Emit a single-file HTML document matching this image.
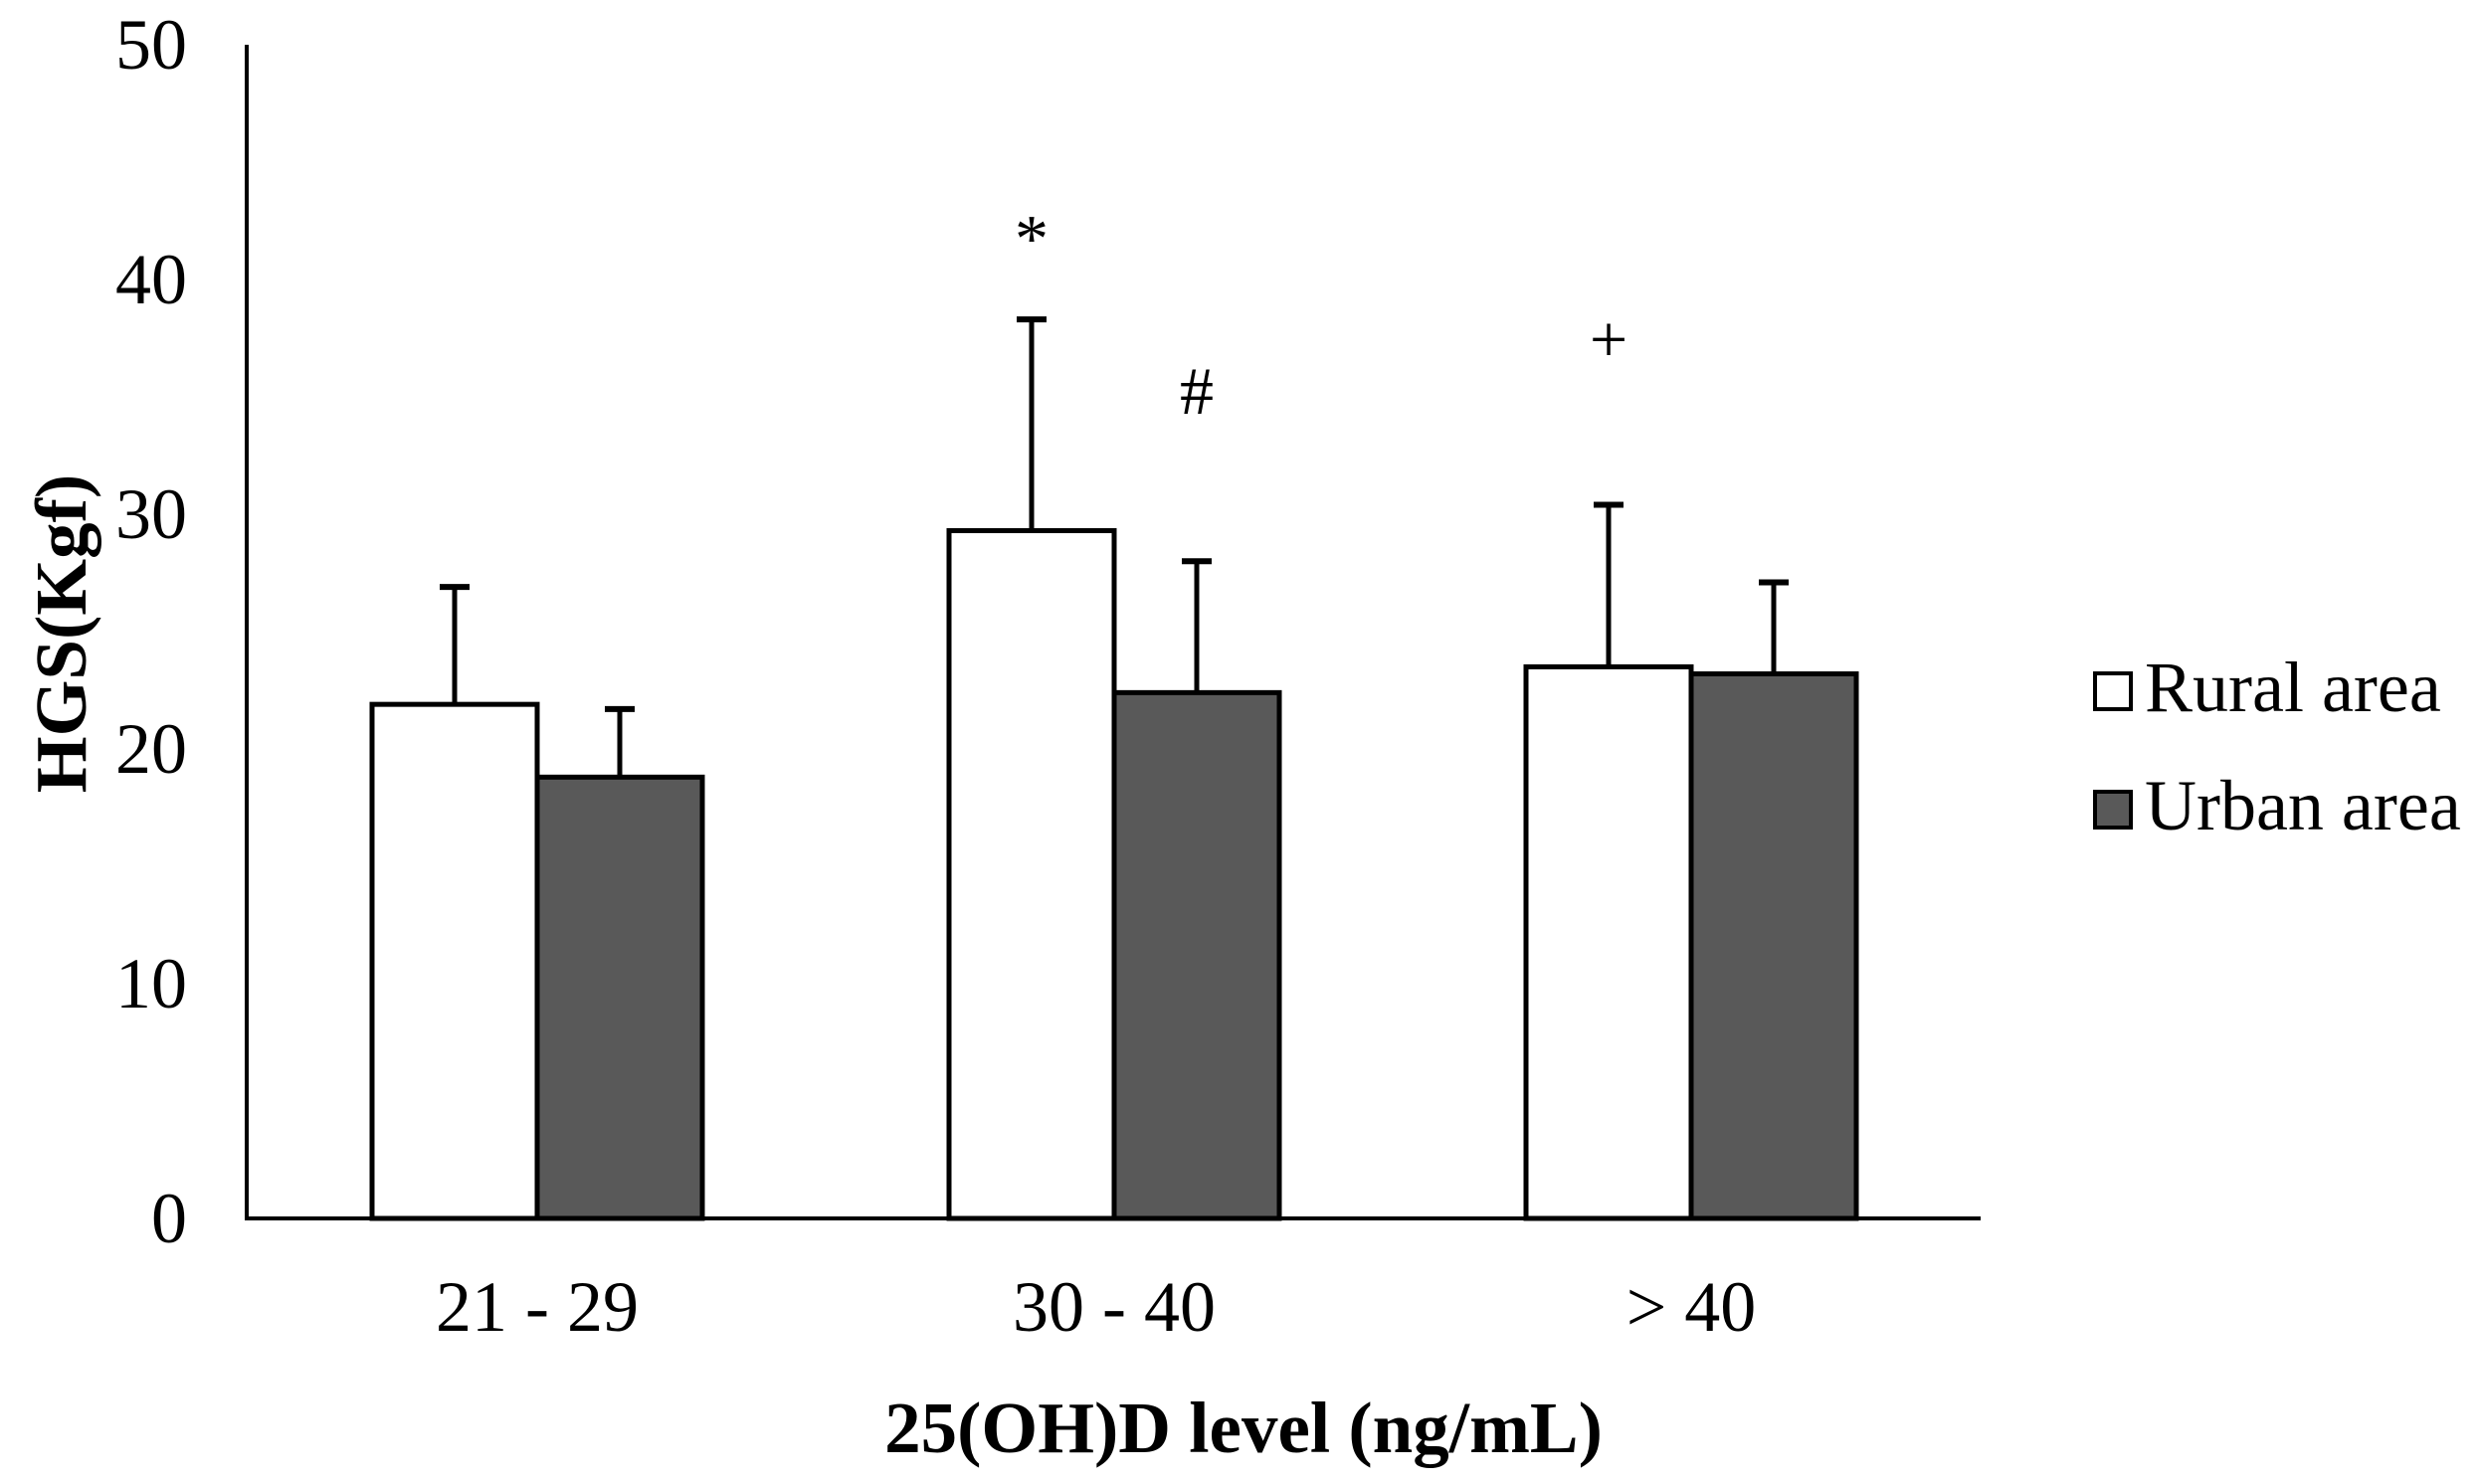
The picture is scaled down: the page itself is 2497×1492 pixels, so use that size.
<!DOCTYPE html>
<html><head><meta charset="utf-8"><style>
html,body{margin:0;padding:0;background:#fff;}
svg{display:block;font-family:"Liberation Serif",serif;}
</style></head><body>
<svg id="chart" width="2497" height="1492" viewBox="0 0 2497 1492" xmlns="http://www.w3.org/2000/svg"></svg>
<script>
const categories = ["21 - 29", "30 - 40", "> 40"];
const ruralValues = [21.9, 29.3, 23.5];
const urbanValues = [18.8, 22.4, 23.2];
const ruralErrTop = [26.9, 38.3, 30.4];
const urbanErrTop = [21.7, 28.0, 27.1];
const yTicks = [0, 10, 20, 30, 40, 50];
const annotations = [
  {text: "*", cat: 1, series: 0, value: 41.8},
  {text: "#", cat: 1, series: 1, value: 35.3},
  {text: "+", cat: 2, series: 0, value: 37.5}
];

const NS = "http://www.w3.org/2000/svg";
const svg = document.getElementById("chart");
const X0 = 248, X1 = 1991, Y0 = 1225, Y50 = 45;
const yScale = v => Y0 - (v / 50) * (Y0 - Y50);
const groupCenter = i => 540 + i * 580;
const barW = 166;
const barX = (i, s) => groupCenter(i) - barW + s * barW;

function el(tag, attrs, parent) {
  const e = document.createElementNS(NS, tag);
  for (const k in attrs) e.setAttribute(k, attrs[k]);
  (parent || svg).appendChild(e);
  return e;
}

[ruralValues, urbanValues].forEach((vals, s) => {
  vals.forEach((v, i) => {
    const errTop = s === 0 ? ruralErrTop[i] : urbanErrTop[i];
    const cx = barX(i, s) + barW / 2;
    const eb = el("line", {x1: cx, x2: cx, y1: yScale(v), y2: yScale(errTop), stroke: "#000", "stroke-width": 5});
    
    
    const cap = el("line", {x1: cx - 15, x2: cx + 15, y1: yScale(errTop), y2: yScale(errTop), stroke: "#000", "stroke-width": 6});
    
    
    const r = el("rect", {x: barX(i, s), y: yScale(v), width: barW, height: Y0 - yScale(v), fill: s === 0 ? "#fff" : "#595959", stroke: "#000", "stroke-width": 5});
    
    
  });
});

const ya = el("line", {x1: X0, x2: X0, y1: Y50, y2: Y0 + 2, stroke: "#000", "stroke-width": 4});


const xa = el("line", {x1: X0 - 2, x2: X1, y1: Y0, y2: Y0, stroke: "#000", "stroke-width": 4});



yTicks.forEach(t => {
  const tx = el("text", {x: 188, y: yScale(t) + 24, "text-anchor": "end", "font-size": 72, fill: "#000"});
  tx.textContent = t;
  
  
});
categories.forEach((c, i) => {
  const tx = el("text", {x: groupCenter(i), y: 1338, "text-anchor": "middle", "font-size": 72, fill: "#000"});
  tx.textContent = c;
  
  
});
annotations.forEach(a => {
  const tx = el("text", {x: barX(a.cat, a.series) + barW / 2, y: yScale(a.value) + 24, "text-anchor": "middle", "font-size": 68, fill: "#000"});
  tx.textContent = a.text;
  
  
});

const xt = el("text", {x: 1250, y: 1460, "text-anchor": "middle", "font-size": 73, "font-weight": "bold", fill: "#000"});
xt.textContent = "25(OH)D level (ng/mL)";


const yt = el("text", {x: 0, y: 0, "text-anchor": "middle", "font-size": 73, "font-weight": "bold", fill: "#000", transform: "translate(86,637) rotate(-90)"});
yt.textContent = "HGS(Kgf)";



[["Rural area", "#fff", 677], ["Urban area", "#595959", 796]].forEach(([lbl, fill, y]) => {
  const b = el("rect", {x: 2106, y: y, width: 36, height: 36, fill: fill, stroke: "#000", "stroke-width": 4});
  
  
  const t = el("text", {x: 2156, y: y + 38, "font-size": 72, fill: "#000"});
  t.textContent = lbl;
  
  
});
</script>
</body></html>
